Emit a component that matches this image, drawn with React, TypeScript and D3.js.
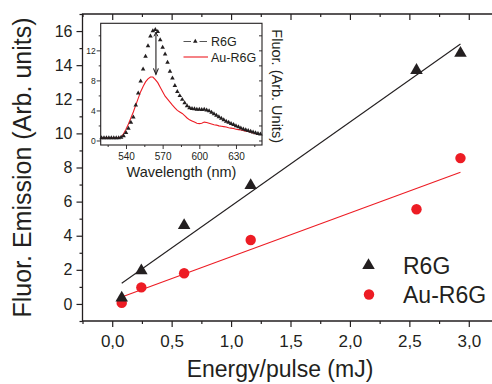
import React, { useRef, useEffect } from 'react';
import * as d3 from 'd3';

// main panel: emission vs. pump energy
const energy = [0.08, 0.245, 0.605, 1.165, 2.56, 2.93];
const r6gEmission = [0.35, 1.95, 4.6, 6.95, 13.7, 14.7];
const auR6gEmission = [0.06, 0.97, 1.8, 3.75, 5.55, 8.55];
const energyTicks = [0, 0.5, 1, 1.5, 2, 2.5, 3];
const energyMinor = [-0.25, 0.25, 0.75, 1.25, 1.75, 2.25, 2.75, 3.25];
const emissionTicks = [0, 2, 4, 6, 8, 10, 12, 14, 16];
const emissionMinor = [-1, 1, 3, 5, 7, 9, 11, 13, 15, 17];

// inset: spectra
const wavelength = d3.range(520, 651, 2);
const r6gSpectrum = [
  0.35, 0.35, 0.35, 0.35, 0.35, 0.35, 0.35, 0.35, 0.4, 0.6,
  1.05, 1.6, 2.4, 3.1, 4.7, 6.3, 7.9, 9.5, 11.2, 12.6,
  13.9, 14.6, 14.75, 14.5, 13.4, 12.4, 11.5, 10.4, 9.2, 8.3,
  7.3, 6.5, 5.95, 5.45, 5.0, 4.6, 4.35, 4.25, 4.2, 4.15,
  4.15, 4.1, 4.15, 4.05, 3.95, 3.75, 3.55, 3.35, 3.15, 2.95,
  2.75, 2.55, 2.4, 2.25, 2.1, 1.95, 1.8, 1.65, 1.5, 1.4,
  1.3, 1.2, 1.1, 1.0, 0.9, 0.85,
];
const auR6gSpectrum = [
  0.35, 0.35, 0.35, 0.35, 0.35, 0.35, 0.35, 0.35, 0.5, 0.9,
  1.5, 2.2, 3.0, 3.8, 4.7, 5.6, 6.5, 7.2, 7.8, 8.2,
  8.45, 8.45, 8.1, 7.7, 7.1, 6.5, 5.9, 5.5, 5.1, 4.7,
  4.35, 4.0, 3.8, 3.6, 3.3, 3.0, 2.75, 2.6, 2.45, 2.3,
  2.25, 2.3, 2.45, 2.4, 2.3, 2.2, 2.1, 2.05, 1.95, 1.9,
  1.85, 1.8, 1.7, 1.65, 1.6, 1.5, 1.45, 1.4, 1.35, 1.25,
  1.2, 1.1, 1.0, 0.9, 0.85, 0.8,
];
const wavelengthTicks = [540, 570, 600, 630];
const wavelengthMinor = [525, 555, 585, 615, 645];
const spectrumTicks = [0, 4, 8, 12];
const spectrumMinor = [2, 6, 10, 14];
const arrowNm = 564.5;
const arrowFrom = 14.4;
const arrowTo = 8.8;

const font = 'Liberation Sans, Arial, Helvetica, sans-serif';
const ink = '#231f20';
const red = '#ed1c24';

const fitLine = (xs: number[], ys: number[]) => {
  const mx = d3.mean(xs) as number;
  const my = d3.mean(ys) as number;
  const sxy = d3.sum(xs, (v, i) => (v - mx) * (ys[i] - my));
  const sxx = d3.sum(xs, v => (v - mx) ** 2);
  const b = sxy / sxx;
  const a = my - b * mx;
  return [d3.min(xs) as number, d3.max(xs) as number].map(v => [v, a + b * v] as [number, number]);
};

const App: React.FC = () => {
  const svgRef = useRef<SVGSVGElement | null>(null);

  useEffect(() => {
    const svg = d3.select(svgRef.current);
    svg.selectAll('*').remove();

    const x = d3.scaleLinear().domain([-0.25, 3.25]).range([82.5, 498.5]);
    const y = d3.scaleLinear().domain([-1, 17]).range([321, 14]);

    const style = (g: any, size: number) => {
      g.attr('font-family', font).attr('font-size', size);
      g.selectAll('.domain').remove();
      g.selectAll('line').attr('stroke', ink).attr('stroke-width', 1.2);
      g.selectAll('text').attr('fill', ink);
    };

    // frame
    svg.append('path')
      .attr('d', `M${x(3.25)},${y(17)}H${x(-0.25)}V${y(-1)}H${x(3.25)}`)
      .attr('fill', 'none').attr('stroke', ink).attr('stroke-width', 1.3);

    svg.append('g').attr('transform', `translate(${x(-0.25)},0)`)
      .call(d3.axisLeft(y).tickValues(emissionTicks).tickSize(6).tickPadding(4).tickFormat(d3.format('d')))
      .call(g => style(g, 16));
    svg.append('g').attr('transform', `translate(${x(-0.25)},0)`)
      .call(d3.axisLeft(y).tickValues(emissionMinor).tickSize(3).tickFormat(() => ''))
      .call(g => style(g, 16));

    svg.append('g').attr('transform', `translate(0,${y(-1)})`)
      .call(d3.axisBottom(x).tickValues(energyTicks).tickSize(6).tickPadding(8)
        .tickFormat(d => (d as number).toFixed(1).replace('.', ',')))
      .call(g => style(g, 17));
    svg.append('g').attr('transform', `translate(0,${y(-1)})`)
      .call(d3.axisBottom(x).tickValues(energyMinor).tickSize(3).tickFormat(() => ''))
      .call(g => style(g, 17));

    svg.append('g').attr('transform', `translate(0,${y(17)})`)
      .call(d3.axisTop(x).tickValues(energyTicks).tickSize(-6).tickFormat(() => ''))
      .call(g => style(g, 10));
    svg.append('g').attr('transform', `translate(0,${y(17)})`)
      .call(d3.axisTop(x).tickValues(energyMinor).tickSize(-3).tickFormat(() => ''))
      .call(g => style(g, 10));

    // titles
    svg.append('text')
      .attr('transform', `translate(31,${(y(-1) + y(17)) / 2}) rotate(-90)`)
      .attr('text-anchor', 'middle').attr('font-family', font).attr('font-size', 25).attr('fill', ink)
      .text('Fluor. Emission (Arb. units)');
    svg.append('text')
      .attr('x', 280).attr('y', 377)
      .attr('text-anchor', 'middle').attr('font-family', font).attr('font-size', 23).attr('fill', ink)
      .text('Energy/pulse (mJ)');

    // fits
    const line = d3.line<[number, number]>().x(d => x(d[0])).y(d => y(d[1]));
    svg.append('path').attr('d', line(fitLine(energy, r6gEmission)))
      .attr('stroke', ink).attr('stroke-width', 1.1).attr('fill', 'none');
    svg.append('path').attr('d', line(fitLine(energy, auR6gEmission)))
      .attr('stroke', red).attr('stroke-width', 1.1).attr('fill', 'none');

    // points
    const tri = d3.symbol(d3.symbolTriangle, 68);
    svg.append('g').selectAll('circle')
      .data(energy)
      .enter()
      .append('circle')
      .attr('cx', d => x(d))
      .attr('cy', (d, i) => y(auR6gEmission[i]))
      .attr('r', 5.2)
      .attr('fill', red);
    svg.append('g').selectAll('path')
      .data(energy)
      .enter()
      .append('path')
      .attr('d', tri())
      .attr('transform', (d, i) => `translate(${x(d)},${y(r6gEmission[i])})`)
      .attr('fill', ink);

    // legend
    const legend = svg.append('g').attr('font-family', font).attr('font-size', 23).attr('fill', ink);
    legend.append('path').attr('d', tri()).attr('transform', 'translate(368.5,265.5)').attr('fill', ink);
    legend.append('text').attr('x', 403).attr('y', 274).text('R6G');
    legend.append('circle').attr('cx', 369).attr('cy', 294.5).attr('r', 5.2).attr('fill', red);
    legend.append('text').attr('x', 403).attr('y', 303).text('Au-R6G');

    // inset
    const ix = d3.scaleLinear().domain([519.3, 651.3]).range([100.7, 262]);
    const iy = d3.scaleLinear().domain([-0.6, 15.6]).range([145, 23.3]);
    const inset = svg.append('g');
    inset.append('rect')
      .attr('x', ix(519.3)).attr('y', iy(15.6))
      .attr('width', ix(651.3) - ix(519.3)).attr('height', iy(-0.6) - iy(15.6))
      .attr('fill', '#fff').attr('stroke', ink).attr('stroke-width', 1.1);

    inset.append('g').attr('transform', `translate(${ix(519.3)},0)`)
      .call(d3.axisLeft(iy).tickValues(spectrumTicks).tickSize(4).tickPadding(1).tickFormat(d3.format('d')))
      .call(g => style(g, 8.5));
    inset.append('g').attr('transform', `translate(${ix(519.3)},0)`)
      .call(d3.axisLeft(iy).tickValues(spectrumMinor).tickSize(2).tickFormat(() => ''))
      .call(g => style(g, 8.5));
    inset.append('g').attr('transform', `translate(${ix(651.3)},0)`)
      .call(d3.axisRight(iy).tickValues([...spectrumTicks, ...spectrumMinor]).tickSize(-3).tickFormat(() => ''))
      .call(g => style(g, 8.5));
    inset.append('g').attr('transform', `translate(0,${iy(-0.6)})`)
      .call(d3.axisBottom(ix).tickValues(wavelengthTicks).tickSize(4).tickPadding(4).tickFormat(d3.format('d')))
      .call(g => style(g, 10));
    inset.append('g').attr('transform', `translate(0,${iy(-0.6)})`)
      .call(d3.axisBottom(ix).tickValues(wavelengthMinor).tickSize(2).tickFormat(() => ''))
      .call(g => style(g, 10));
    inset.selectAll('line').attr('stroke-width', 0.9);

    inset.append('text')
      .attr('x', 181.5).attr('y', 176.5)
      .attr('text-anchor', 'middle').attr('font-family', font).attr('font-size', 14.5).attr('fill', ink)
      .text('Wavelength (nm)');
    inset.append('text')
      .attr('transform', `translate(271.5,${(iy(-0.6) + iy(15.6)) / 2 + 2}) rotate(90)`)
      .attr('text-anchor', 'middle').attr('font-family', font).attr('font-size', 14.5).attr('fill', ink)
      .text('Fluor. (Arb. Units)');

    const iline = d3.line<number>().x((d, i) => ix(wavelength[i])).y(d => iy(d));
    inset.append('path').attr('d', iline(auR6gSpectrum))
      .attr('fill', 'none').attr('stroke', red).attr('stroke-width', 1.1);
    const smallTri = d3.symbol(d3.symbolTriangle, 9);
    inset.append('g').selectAll('path')
      .data(r6gSpectrum)
      .enter()
      .append('path')
      .attr('d', smallTri())
      .attr('transform', (d, i) => `translate(${ix(wavelength[i])},${iy(d)})`)
      .attr('fill', ink);

    // arrow
    const ax = ix(arrowNm);
    inset.append('line')
      .attr('x1', ax).attr('x2', ax).attr('y1', iy(arrowFrom)).attr('y2', iy(arrowTo))
      .attr('stroke', ink).attr('stroke-width', 1.1);
    inset.append('path')
      .attr('d', `M${ax - 2.5},${iy(arrowTo) - 6}L${ax},${iy(arrowTo)}L${ax + 2.5},${iy(arrowTo) - 6}`)
      .attr('fill', 'none').attr('stroke', ink).attr('stroke-width', 1.1);
    inset.append('path')
      .attr('d', `M${ax - 2},${iy(arrowFrom) + 4}L${ax},${iy(arrowFrom)}L${ax + 2},${iy(arrowFrom) + 4}`)
      .attr('fill', 'none').attr('stroke', ink).attr('stroke-width', 1);

    // inset legend
    const il = inset.append('g').attr('font-family', font).attr('font-size', 12.5).attr('fill', ink);
    il.append('line').attr('x1', 183.5).attr('x2', 191).attr('y1', 41.5).attr('y2', 41.5)
      .attr('stroke', '#555').attr('stroke-width', 1);
    il.append('line').attr('x1', 199.5).attr('x2', 207).attr('y1', 41.5).attr('y2', 41.5)
      .attr('stroke', '#555').attr('stroke-width', 1);
    il.append('path').attr('d', smallTri()).attr('transform', 'translate(195.3,41.5)').attr('fill', ink);
    il.append('text').attr('x', 211).attr('y', 45.5).text('R6G');
    il.append('line').attr('x1', 183.5).attr('x2', 208).attr('y1', 57).attr('y2', 57)
      .attr('stroke', red).attr('stroke-width', 1.1);
    il.append('text').attr('x', 211).attr('y', 61.5).text('Au-R6G');
  }, []);

  return (
    <svg
      ref={svgRef}
      width={492}
      height={384}
      style={{ position: 'absolute', left: 0, top: 0, background: '#fff' }}
    />
  );
};

export default App;
